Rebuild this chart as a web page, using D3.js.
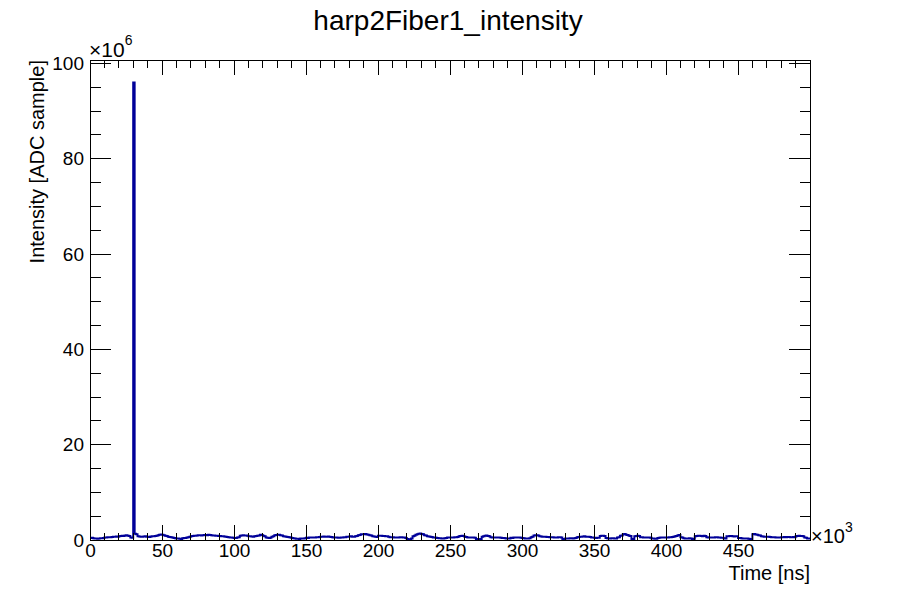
<!DOCTYPE html>
<html>
<head>
<meta charset="utf-8">
<script src="https://cdn.jsdelivr.net/npm/d3@7"></script>
<style>
  body { margin: 0; background: #fff; }
  svg { display: block; }
  text { font-family: "Liberation Sans", Arial, Helvetica, sans-serif; fill: #000; }
</style>
</head>
<body>
<svg id="chart" width="900" height="600"></svg>
<script>
// ---- data (x in 10^3 ns, y in 10^6 ADC) ----
const title = "harp2Fiber1_intensity";
const xTitle = "Time [ns]";
const yTitle = "Intensity [ADC sample]";
const binStart = 0;      // first bin low edge (×10^3 ns)
const binWidth = 1;      // bin width (×10^3 ns)
const xTickValues = [0, 50, 100, 150, 200, 250, 300, 350, 400, 450];
const yTickValues = [0, 20, 40, 60, 80, 100];
const intensity = [
  // 0-50k
  0.4,0.45,0.35,0.3,0.3,0.25,0.3,0.35,0.35,0.4, 0.5,0.55,0.6,0.6,0.6,0.65,0.7,0.7,0.75,0.7,
  0.8,0.85,0.9,0.85,0.95,1.0,0.9,0.85,0.5,0.45, 96,1.3,1.2,0.8,0.75,0.7,0.7,0.75,0.8,0.7,
  0.7,0.65,0.75,0.8,0.8,0.85,0.9,1.0,1.1,1.15,
  // 50-100k
  1.1,1.0,0.9,0.85,0.7,0.65,0.6,0.5,0.4,0.35, 0.3,0.3,0.25,0.2,0.35,0.4,0.4,0.5,0.6,0.7,
  0.8,0.85,0.9,0.9,0.95,1.0,1.0,0.95,1.0,1.05, 1.05,1.0,1.1,1.05,1.0,0.95,0.95,0.9,0.9,0.85,
  0.85,0.8,0.8,0.75,0.7,0.65,0.6,0.55,0.5,0.45,
  // 100-150k
  0.4,0.4,0.5,0.6,0.9,0.95,1.0,0.95,0.95,0.9, 0.8,0.8,0.75,0.7,0.8,0.85,0.9,0.95,1.1,1.05,
  0.9,0.8,0.5,0.45,0.4,0.45,0.7,0.8,1.0,1.05, 1.1,1.1,1.0,0.95,0.8,0.75,0.7,0.65,0.6,0.5,
  0.4,0.35,0.3,0.25,0.25,0.2,0.3,0.3,0.3,0.35,
  // 150-200k
  0.45,0.4,0.5,0.55,0.5,0.5,0.55,0.6,0.6,0.65, 0.7,0.7,0.75,0.7,0.7,0.75,0.7,0.65,0.6,0.55,
  0.5,0.5,0.45,0.45,0.5,0.55,0.6,0.6,0.7,0.7, 0.75,0.8,0.7,0.7,0.8,0.85,1.0,1.05,1.2,1.2,
  1.2,1.25,1.15,1.1,1.0,0.95,0.8,0.75,0.7,0.65,
  // 200-250k
  0.9,0.9,0.9,0.85,0.85,0.8,0.8,0.7,0.6,0.6, 0.6,0.55,0.55,0.5,0.55,0.6,0.6,0.55,0.5,0.4,
  0.2,0.15,0.1,0.3,0.8,0.9,1.1,1.2,1.3,1.35, 1.25,1.2,1.0,0.95,0.8,0.75,0.7,0.65,0.55,0.5,
  0.45,0.4,0.35,0.35,0.3,0.3,0.35,0.4,0.5,0.5,
  // 250-300k
  0.55,0.5,0.55,0.6,0.6,0.65,0.8,0.85,0.9,0.85, 0.7,0.65,0.55,0.5,0.5,0.55,0.5,0.45,0.2,0.15,
  0.1,0.2,0.7,0.8,0.9,0.95,0.85,0.8,0.6,0.55, 0.55,0.5,0.5,0.5,0.5,0.45,0.4,0.4,0.35,0.3,
  0.3,0.3,0.45,0.4,0.5,0.55,0.55,0.5,0.5,0.45,
  // 300-350k
  0.4,0.35,0.3,0.3,0.3,0.35,0.6,0.7,0.95,1.0, 1.0,0.95,0.8,0.75,0.7,0.7,0.7,0.65,0.65,0.6,
  0.6,0.6,0.55,0.55,0.55,0.6,0.6,0.55,0.15,0.2, 0.3,0.3,0.3,0.35,0.35,0.3,0.35,0.4,0.6,0.65,
  0.7,0.7,0.75,0.8,0.7,0.7,0.7,0.65,0.5,0.5,
  // 350-400k
  0.45,0.4,0.45,0.45,0.85,0.9,0.9,0.85,0.4,0.35, 0.3,0.3,0.35,0.35,0.3,0.3,0.55,0.6,0.9,0.95,
  1.2,1.25,1.1,1.05,0.9,0.85,0.1,0.2,0.8,0.85, 0.9,0.85,0.6,0.6,0.55,0.55,0.55,0.5,0.5,0.45,
  0.3,0.3,0.25,0.25,0.4,0.45,0.55,0.5,0.55,0.55,
  // 400-450k
  0.55,0.5,0.6,0.6,0.65,0.7,0.8,0.85,1.0,1.05, 0.6,0.5,0.35,0.3,0.3,0.3,0.35,0.3,0.2,0.25,
  0.8,0.85,0.9,0.9,0.85,0.8,0.9,0.85,0.6,0.55, 0.55,0.5,0.55,0.55,0.6,0.6,0.55,0.5,0.45,0.45,
  0.35,0.3,0.8,0.8,0.85,0.85,0.8,0.75,0.8,0.8,
  // 450-500k
  0.4,0.4,0.35,0.3,0.3,0.3,0.3,0.25,0.15,0.2, 1.2,1.25,1.15,1.1,1.0,0.95,0.8,0.75,0.7,0.7,
  0.7,0.7,0.65,0.6,0.6,0.6,0.5,0.5,0.5,0.55, 0.6,0.6,0.65,0.6,0.65,0.65,0.6,0.6,0.65,0.6,
  0.8,0.85,0.9,0.85,0.85,0.8,0.5,0.45,0.3,0.3
];

// ---- layout ----
const svg = d3.select("#chart");
const L = 90, R = 810, T = 60, B = 540;
const xMax = binStart + binWidth * intensity.length;
const x = d3.scaleLinear().domain([0, xMax]).range([L, R]);
const y = d3.scaleLinear().domain([0, 100.7]).range([B, T]);
const lineColor = "#000099";

// clip
svg.append("clipPath").attr("id", "clip")
  .append("rect").attr("x", L).attr("y", T).attr("width", R - L).attr("height", B - T);

// histogram step line
const pts = intensity.map((v, i) => [binStart + i * binWidth, v]);
pts.push([xMax, intensity[intensity.length - 1]]);
const line = d3.line().x(d => x(d[0])).y(d => y(d[1])).curve(d3.curveStepAfter);
svg.append("path").datum(pts)
  .attr("clip-path", "url(#clip)")
  .attr("d", line)
  .attr("fill", "none")
  .attr("stroke", lineColor)
  .attr("stroke-width", 2)
  .attr("stroke-linejoin", "miter");

// ticks
const xMinor = d3.range(0, xMax + 0.001, 10);
const yMinor = d3.range(0, 100.7, 5);
const tg = svg.append("g").attr("stroke", "#000").attr("stroke-width", 1).attr("shape-rendering", "crispEdges");
xMinor.forEach(v => {
  const major = v % 50 === 0;
  const len = major ? 15 : 7.5;
  tg.append("line").attr("x1", x(v)).attr("x2", x(v)).attr("y1", B).attr("y2", B - len);
  tg.append("line").attr("x1", x(v)).attr("x2", x(v)).attr("y1", T).attr("y2", T + len);
});
yMinor.forEach(v => {
  const major = v % 20 === 0;
  const len = major ? 21 : 10.5;
  tg.append("line").attr("x1", L).attr("x2", L + len).attr("y1", y(v)).attr("y2", y(v));
  tg.append("line").attr("x1", R).attr("x2", R - len).attr("y1", y(v)).attr("y2", y(v));
});

// frame
svg.append("rect").attr("x", L).attr("y", T).attr("width", R - L).attr("height", B - T)
  .attr("fill", "none").attr("stroke", "#000").attr("stroke-width", 1).attr("shape-rendering", "crispEdges");

// tick labels via axes (lines hidden)
const xAxis = d3.axisBottom(x).tickValues(xTickValues).tickSize(0).tickPadding(3);
const gx = svg.append("g").attr("transform", `translate(0,${B})`).call(xAxis);
gx.select(".domain").remove();
gx.selectAll("text").attr("font-size", 19).attr("font-family", "Liberation Sans, Arial, sans-serif").attr("fill", "#000");

const yAxis = d3.axisLeft(y).tickValues(yTickValues).tickSize(0).tickPadding(6);
const gy = svg.append("g").attr("transform", `translate(${L},0)`).call(yAxis);
gy.select(".domain").remove();
gy.selectAll("text").attr("font-size", 19).attr("font-family", "Liberation Sans, Arial, sans-serif").attr("fill", "#000");

// exponent labels
const e6 = svg.append("text").attr("x", 89).attr("y", 57).attr("font-size", 21);
e6.append("tspan").text("\u00d710");
e6.append("tspan").attr("dy", -12).attr("font-size", 14).text("6");
const e3 = svg.append("text").attr("x", 811).attr("y", 543).attr("font-size", 20);
e3.append("tspan").text("\u00d710");
e3.append("tspan").attr("dy", -11).attr("font-size", 14).text("3");

// titles
svg.append("text").attr("x", 448).attr("y", 30).attr("text-anchor", "middle")
  .attr("font-size", 28).text(title);
svg.append("text").attr("x", R).attr("y", 580).attr("text-anchor", "end")
  .attr("font-size", 20).text(xTitle);
svg.append("text").attr("transform", `translate(44,${T}) rotate(-90)`).attr("text-anchor", "end")
  .attr("font-size", 20).text(yTitle);
</script>
</body>
</html>
